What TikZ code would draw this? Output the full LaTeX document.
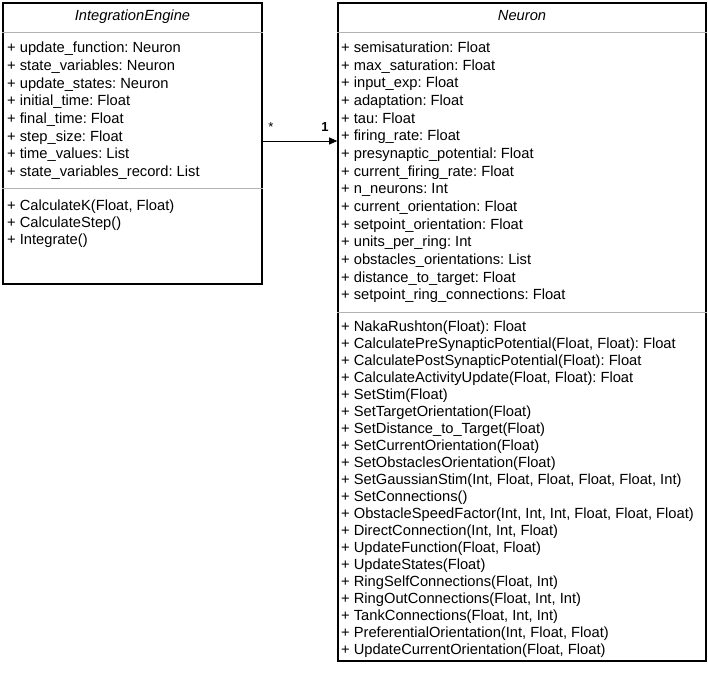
\documentclass[tikz,border=0pt]{standalone}
\usepackage{fontspec}
\setmainfont{Liberation Sans}
\usetikzlibrary{arrows.meta}
\frenchspacing
\begin{document}
\begin{tikzpicture}[x=1pt,y=-1pt,
  txt/.style={anchor=base west,inner sep=0pt,font=\fontsize{14.7}{16}\selectfont},
  ttl/.style={anchor=base,inner sep=0pt,font=\fontsize{14.7}{16}\selectfont\itshape},
  classbox/.style={draw=black,line width=1.6pt,fill=white,inner sep=0pt,minimum width=#1},
  sep/.style={draw=black!30,line width=0.8pt},
  assoc/.style={draw=black,line width=0.9pt,-{Triangle[length=8pt,width=7pt]}},
  mult/.style={anchor=base,inner sep=0pt,font=\fontsize{13}{15}\selectfont}]
\useasboundingbox (0,0) rectangle (708,692);
% IntegrationEngine
\node[classbox=259pt,minimum height=281pt] (ie) at (132.5,143.5) {};
\node[ttl] (iet) at (132.5,20.5) {IntegrationEngine};
\draw[sep] (ie.west |- 0,32) -- (ie.east |- 0,32);
\draw[sep] (ie.west |- 0,188) -- (ie.east |- 0,188);
\foreach \t [count=\i] in {%
 {+ update\_function: Neuron},
 {+ state\_variables: Neuron},
 {+ update\_states: Neuron},
 {+ initial\_time: Float},
 {+ final\_time: Float},
 {+ step\_size: Float},
 {+ time\_values: List},
 {+ state\_variables\_record: List}}
 {\node[txt] (iea\i) at (7,{47.5+17.7*(\i-1)+5.2}) {\t};}
\foreach \t [count=\i] in {%
 {+ CalculateK(Float, Float)},
 {+ CalculateStep()},
 {+ Integrate()}}
 {\node[txt] (iem\i) at (7,{205+17.2*(\i-1)+5.2}) {\t};}
% Neuron
\node[classbox=368pt,minimum height=658pt] (ne) at (522,332) {};
\node[ttl] (net) at (522,20.5) {Neuron};
\draw[sep] (ne.west |- 0,32) -- (ne.east |- 0,32);
\draw[sep] (ne.west |- 0,312) -- (ne.east |- 0,312);
\foreach \t [count=\i] in {%
 {+ semisaturation: Float},
 {+ max\_saturation: Float},
 {+ input\_exp: Float},
 {+ adaptation: Float},
 {+ tau: Float},
 {+ firing\_rate: Float},
 {+ presynaptic\_potential: Float},
 {+ current\_firing\_rate: Float},
 {+ n\_neurons: Int},
 {+ current\_orientation: Float},
 {+ setpoint\_orientation: Float},
 {+ units\_per\_ring: Int},
 {+ obstacles\_orientations: List},
 {+ distance\_to\_target: Float},
 {+ setpoint\_ring\_connections: Float}}
 {\node[txt] (nea\i) at (341,{47.5+17.64*(\i-1)+5.2}) {\t};}
\foreach \t [count=\i] in {%
 {+ NakaRushton(Float): Float},
 {+ CalculatePreSynapticPotential(Float, Float): Float},
 {+ CalculatePostSynapticPotential(Float): Float},
 {+ CalculateActivityUpdate(Float, Float): Float},
 {+ SetStim(Float)},
 {+ SetTargetOrientation(Float)},
 {+ SetDistance\_to\_Target(Float)},
 {+ SetCurrentOrientation(Float)},
 {+ SetObstaclesOrientation(Float)},
 {+ SetGaussianStim(Int, Float, Float, Float, Float, Int)},
 {+ SetConnections()},
 {+ ObstacleSpeedFactor(Int, Int, Int, Float, Float, Float)},
 {+ DirectConnection(Int, Int, Float)},
 {+ UpdateFunction(Float, Float)},
 {+ UpdateStates(Float)},
 {+ RingSelfConnections(Float, Int)},
 {+ RingOutConnections(Float, Int, Int)},
 {+ TankConnections(Float, Int, Int)},
 {+ PreferentialOrientation(Int, Float, Float)},
 {+ UpdateCurrentOrientation(Float, Float)}}
 {\node[txt] (nem\i) at (341,{326.5+16.99*(\i-1)+5.2}) {\t};}
% association
\coordinate (a1) at (ie.east |- 0,141);
\coordinate (a2) at (ne.west |- 0,141);
\draw[assoc] (a1) -- (a2);
\node[mult] (m1) at (271,132) {*};
\node[mult] (m2) at (325,132) {\textbf{1}};
\end{tikzpicture}
\end{document}
